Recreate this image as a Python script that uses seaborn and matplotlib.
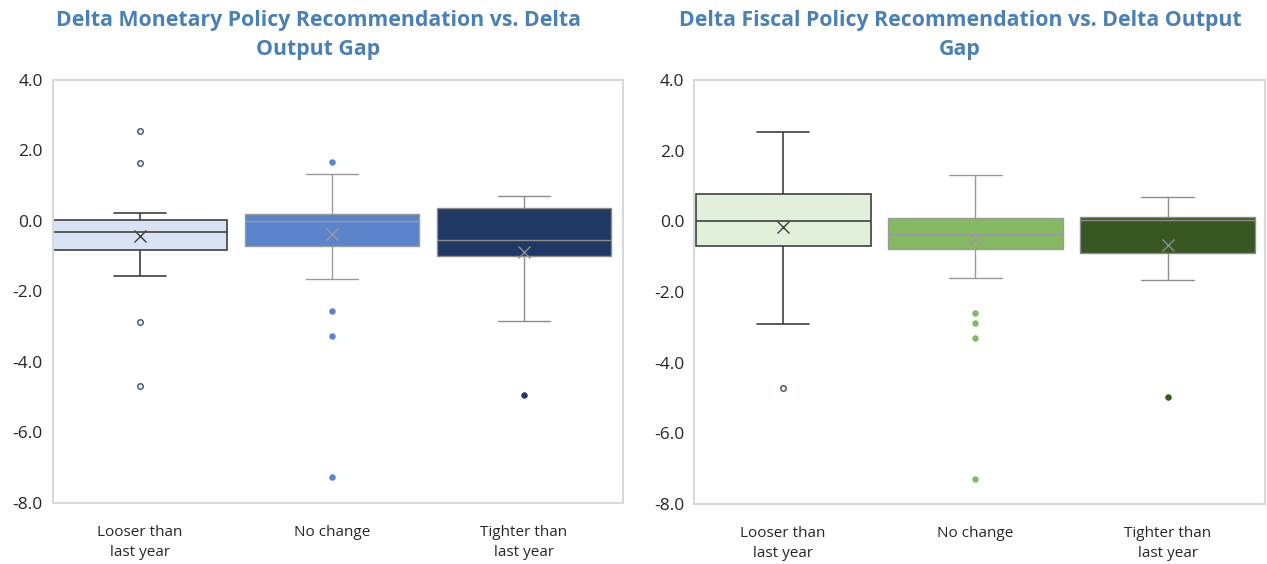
import pandas as pd
import numpy as np
import matplotlib
matplotlib.use("Agg")
import matplotlib.pyplot as plt
from matplotlib.ticker import FormatStrFormatter
import seaborn as sns

# ============================================================
# DATA  (samples chosen to reproduce the box stats)
# ============================================================
CATEGORIES = ["Looser than\nlast year", "No change", "Tighter than\nlast year"]

MON_LOOSER = [-4.69, -2.87, -1.57, -0.90, -0.85, -0.82, -0.50, -0.45, -0.40, -0.35,
              -0.30, -0.20, -0.10, -0.05, -0.03, 0.02, 0.20, 0.20, 0.22, 1.65, 2.55]
MON_NOCHANGE = [-7.25, -3.26, -2.56, -1.66, -1.40, -1.20, -1.00, -0.90, -0.80, -0.75,
                -0.70, -0.65, -0.60, -0.50, -0.40, -0.30, -0.20, -0.15, -0.10, -0.05,
                0.00, 0.02, 0.05, 0.05, 0.08, 0.10, 0.10, 0.12, 0.15, 0.18,
                0.20, 0.30, 0.40, 0.50, 0.60, 0.70, 0.80, 0.92, 1.00, 1.33, 1.66]
MON_TIGHTER = [-4.94, -2.85, -2.80, -2.60, -2.30, -1.00, -1.00, -0.95, -0.90, -0.80,
               -0.55, -0.50, -0.40, -0.10, -0.01, 0.36, 0.40, 0.45, 0.50, 0.60, 0.70]

FIS_LOOSER = [-4.72, -2.90, -2.00, -1.40, -1.00, -0.71, -0.60, -0.45, -0.30, -0.15,
              0.00, 0.10, 0.25, 0.40, 0.60, 0.77, 0.90, 1.20, 1.71, 2.40, 2.54]
FIS_NOCHANGE = [-7.29, -3.29, -2.87, -2.59, -1.59, -1.40, -1.20, -1.00, -0.90, -0.80,
                -0.78, -0.75, -0.70, -0.65, -0.60, -0.55, -0.50, -0.45, -0.40, -0.38,
                -0.35, -0.30, -0.25, -0.20, -0.15, -0.10, -0.05, 0.00, 0.05, 0.08,
                0.10, 0.44, 0.50, 0.70, 0.85, 0.95, 1.00, 1.10, 1.20, 1.30, 1.32]
FIS_TIGHTER = [-4.96, -1.67, -1.65, -1.60, -1.50, -0.89, -0.89, -0.88, -0.86, -0.80,
               0.03, 0.03, 0.04, 0.05, 0.06, 0.13, 0.14, 0.15, 0.20, 0.32, 0.69]

TITLES = ["Delta Monetary Policy Recommendation vs. Delta\nOutput Gap",
          "Delta Fiscal Policy Recommendation vs. Delta Output\nGap"]

# ============================================================
# STYLE
# ============================================================
MON_FILL = ["#dae3f3", "#5b84cb", "#1f3864"]
FIS_FILL = ["#e2efda", "#84b862", "#385723"]
EDGE     = ["#404040", "#9a9a9a", "#8c8c8c"]
LW       = [1.2, 1.0, 1.0]
BOX_W    = 0.91
CAP_HALF = 0.136
TITLE_COLOR = "#4a80b4"
TEXT_COLOR  = "#262626"

sns.set_theme(style="white")
plt.rcParams["font.family"] = ["Open Sans", "DejaVu Sans"]


def make_df(series):
    rows = []
    for cat, vals in zip(CATEGORIES, series):
        for v in vals:
            rows.append((cat, v))
    return pd.DataFrame(rows, columns=["cat", "val"])


def draw_panel(ax, df, fills, xlim):
    for i, cat in enumerate(CATEGORIES):
        sub = df[df["cat"] == cat]
        hollow = i == 0
        sns.boxplot(
            data=sub, x="cat", y="val", order=CATEGORIES, ax=ax,
            width=BOX_W, color=fills[i], saturation=1,
            linecolor=EDGE[i], linewidth=LW[i],
            showmeans=True,
            meanprops=dict(marker="x", markeredgecolor=EDGE[i],
                           markerfacecolor=EDGE[i], markersize=8,
                           markeredgewidth=1.0),
            flierprops=dict(marker="o", markersize=4,
                            markerfacecolor="#eef2f8" if hollow else fills[i],
                            markeredgecolor="#44546a" if hollow else fills[i],
                            markeredgewidth=1.0 if hollow else 0.6),
        )

    # shorten whisker caps (Excel style)
    for ln in ax.lines:
        xd, yd = np.asarray(ln.get_xdata(), float), np.asarray(ln.get_ydata(), float)
        if len(xd) == 2 and yd[0] == yd[1] and 0 < abs(xd[1] - xd[0]) < 0.8 * BOX_W:
            c = xd.mean()
            ln.set_xdata([c - CAP_HALF, c + CAP_HALF])

    ax.set_xlim(*xlim)
    ax.set_ylim(-8, 4)
    ax.set_yticks(np.arange(-8, 4.1, 2))
    ax.yaxis.set_major_formatter(FormatStrFormatter("%.1f"))
    ax.set_xlabel("")
    ax.set_ylabel("")
    ax.tick_params(axis="both", length=0, colors=TEXT_COLOR)
    ax.tick_params(axis="y", labelsize=12.5, pad=7)
    ax.tick_params(axis="x", labelsize=11, pad=16)
    for lab in ax.get_xticklabels():
        lab.set_linespacing(1.4)
    for sp in ax.spines.values():
        sp.set_visible(True)
        sp.set_color("#d9d9d9")
        sp.set_linewidth(1.5)
    ax.grid(False)


fig = plt.figure(figsize=(12.67, 5.64), dpi=100)
ax1 = fig.add_axes([0.0416, 0.1082, 0.4499, 0.75])
ax2 = fig.add_axes([0.5480, 0.1065, 0.4505, 0.7515])

draw_panel(ax1, make_df([MON_LOOSER, MON_NOCHANGE, MON_TIGHTER]), MON_FILL, (-0.455, 2.514))
draw_panel(ax2, make_df([FIS_LOOSER, FIS_NOCHANGE, FIS_TIGHTER]), FIS_FILL, (-0.462, 2.507))

fig.text(318 / 1267, 1 - 35 / 564, TITLES[0], ha="center", va="center",
         fontsize=15.3, fontweight="bold", color=TITLE_COLOR, linespacing=1.45)
fig.text(960 / 1267, 1 - 35 / 564, TITLES[1], ha="center", va="center",
         fontsize=15.3, fontweight="bold", color=TITLE_COLOR, linespacing=1.45)

fig.savefig("out.png", dpi=100)
